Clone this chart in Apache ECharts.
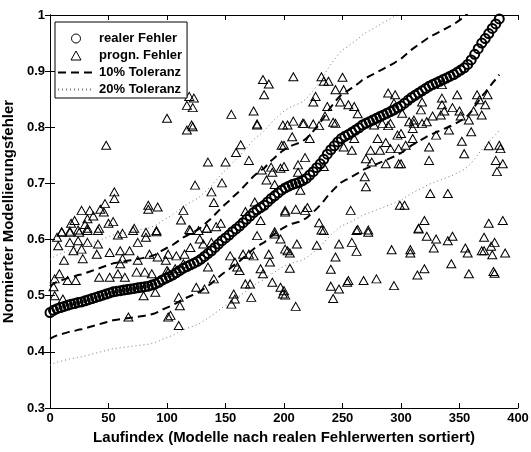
<!DOCTYPE html>
<html>
<head>
<meta charset="utf-8">
<script src="https://cdn.jsdelivr.net/npm/echarts@6/dist/echarts.min.js"></script>
<style>
  html, body { margin: 0; padding: 0; background: #fff; }
  #chart { width: 531px; height: 452px; }
</style>
</head>
<body>
<div id="chart"></div>
<script>
var realStep = 3;
var realVals = [
  0.470, 0.474, 0.477, 0.479, 0.481, 0.483, 0.485, 0.486, 0.488, 0.489,
  0.491, 0.493, 0.495, 0.497, 0.499, 0.501, 0.503, 0.505, 0.507, 0.508,
  0.509, 0.510, 0.511, 0.512, 0.513, 0.514, 0.515, 0.516, 0.517, 0.519,
  0.521, 0.524, 0.528, 0.531, 0.534, 0.537, 0.541, 0.545, 0.549, 0.552,
  0.555, 0.558, 0.561, 0.565, 0.570, 0.575, 0.580, 0.586, 0.592, 0.598,
  0.603, 0.608, 0.614, 0.619, 0.624, 0.630, 0.636, 0.642, 0.648, 0.653,
  0.657, 0.661, 0.667, 0.673, 0.678, 0.683, 0.688, 0.692, 0.695, 0.698,
  0.700, 0.702, 0.705, 0.709, 0.715, 0.721, 0.728, 0.735, 0.743, 0.752,
  0.760, 0.767, 0.774, 0.780, 0.784, 0.787, 0.791, 0.795, 0.799, 0.804,
  0.807, 0.810, 0.813, 0.816, 0.819, 0.822, 0.825, 0.828, 0.831, 0.835,
  0.838, 0.843, 0.848, 0.853, 0.857, 0.861, 0.865, 0.869, 0.873, 0.876,
  0.879, 0.882, 0.885, 0.888, 0.891, 0.894, 0.898, 0.902, 0.906, 0.912,
  0.920, 0.930, 0.940, 0.950, 0.958, 0.967, 0.976, 0.984, 0.993
];

// prognostizierter Fehler [Laufindex, Wert]
var prognPts = [
  [100,0.816],[119,0.855],[123,0.852],[117,0.839],[122,0.835],[121,0.804],[155,0.823],[174,0.829],[177,0.806],
  [182,0.885],[187,0.877],[183,0.858],
  [208,0.890],[232,0.890],[250,0.889],[234,0.882],[238,0.882],[244,0.867],[251,0.867],[227,0.855],[225,0.845],
  [237,0.837],[248,0.845],[255,0.840],[260,0.837],[263,0.824],[235,0.820],[289,0.861],[295,0.858],[294,0.843],
  [208,0.811],[216,0.807],[225,0.806],[242,0.809],[203,0.804],[284,0.807],[291,0.807],
  [335,0.876],[348,0.858],[335,0.852],[318,0.845],[335,0.840],[344,0.835],[365,0.858],[374,0.858],[367,0.849],
  [372,0.840],[317,0.831],[301,0.825],[337,0.829],[350,0.829],[362,0.829],[311,0.813],[322,0.810],[327,0.820],
  [334,0.822],[351,0.820],[358,0.813],[369,0.822],[307,0.810],
  [48,0.768],[55,0.685],[55,0.673],[47,0.664],[27,0.652],[34,0.652],[43,0.654],[46,0.649],[84,0.661],[84,0.654],
  [92,0.658],[21,0.634],[32,0.637],[37,0.642],[18,0.629],[30,0.627],[50,0.629],[54,0.632],[10,0.614],[17,0.615],
  [24,0.617],[32,0.620],[42,0.620],[72,0.620],[91,0.614],[62,0.611],
  [117,0.795],[122,0.801],[177,0.804],[199,0.804],[163,0.769],[159,0.755],[170,0.741],[198,0.768],[135,0.738],
  [150,0.738],[181,0.724],[189,0.729],[197,0.727],[190,0.720],[185,0.706],[192,0.698],[147,0.701],[124,0.697],
  [138,0.685],[140,0.666],[175,0.667],[167,0.650],[114,0.652],[112,0.635],[119,0.618],[134,0.620],[142,0.623],
  [146,0.629],[180,0.634],[192,0.614],[201,0.649],
  [217,0.807],[230,0.803],[244,0.807],[207,0.783],[222,0.780],[200,0.768],[277,0.804],[289,0.803],[297,0.786],
  [280,0.780],[287,0.773],[260,0.780],[251,0.765],[258,0.759],[274,0.759],[282,0.759],[291,0.762],[298,0.762],
  [270,0.744],[275,0.738],[287,0.735],[298,0.735],[218,0.746],[212,0.733],[212,0.720],[200,0.730],[234,0.730],
  [269,0.712],[270,0.694],[214,0.688],[201,0.652],[210,0.654],[218,0.652],[220,0.657],[257,0.652],[230,0.630],
  [232,0.617],[263,0.618],[272,0.617],[299,0.661],
  [311,0.807],[318,0.807],[310,0.798],[300,0.789],[310,0.780],[330,0.786],[341,0.795],[360,0.792],[304,0.768],
  [324,0.765],[352,0.775],[354,0.753],[324,0.741],[300,0.735],[375,0.767],[384,0.768],[385,0.762],[381,0.741],
  [387,0.735],[382,0.721],[325,0.682],[340,0.682],[303,0.661],[320,0.634],[315,0.620],[375,0.629],[387,0.634],
  [10,0.613],[17,0.613],[25,0.613],[32,0.616],[41,0.616],[58,0.608],[71,0.616],[82,0.613],[91,0.616],[7,0.589],
  [17,0.595],[24,0.598],[32,0.595],[41,0.592],[20,0.580],[27,0.583],[40,0.574],[51,0.577],[60,0.580],[68,0.580],
  [75,0.595],[82,0.604],[75,0.563],[85,0.574],[12,0.563],[28,0.566],[60,0.557],[62,0.566],[92,0.569],[99,0.563],
  [4,0.530],[8,0.539],[15,0.527],[22,0.527],[42,0.533],[51,0.533],[58,0.539],[64,0.533],[74,0.542],[81,0.542],
  [87,0.539],[101,0.542],[4,0.500],[11,0.494],[80,0.500],[90,0.506],[67,0.462],[101,0.462],[3,0.516],[6,0.604],
  [120,0.616],[127,0.616],[134,0.620],[128,0.601],[131,0.592],[138,0.595],[120,0.586],[115,0.574],[108,0.571],
  [101,0.574],[114,0.557],[107,0.548],[100,0.545],[135,0.551],[154,0.571],[158,0.560],[160,0.551],[162,0.545],
  [165,0.574],[170,0.574],[174,0.571],[177,0.607],[187,0.574],[188,0.560],[180,0.548],[182,0.539],[192,0.610],
  [197,0.601],[140,0.530],[125,0.515],[132,0.512],[167,0.521],[171,0.521],[190,0.524],[197,0.515],[110,0.497],
  [111,0.482],[157,0.503],[158,0.494],[155,0.485],[172,0.497],[103,0.465],[110,0.447],[199,0.503],[201,0.583],
  [234,0.616],[262,0.616],[272,0.613],[211,0.592],[228,0.590],[247,0.592],[258,0.595],[262,0.579],[292,0.582],
  [203,0.580],[205,0.576],[244,0.569],[205,0.549],[240,0.547],[240,0.517],[247,0.512],[254,0.524],[255,0.527],
  [268,0.527],[279,0.530],[294,0.518],[242,0.495],[200,0.509],[201,0.501],[210,0.481],
  [315,0.619],[322,0.606],[330,0.601],[340,0.598],[344,0.606],[371,0.604],[380,0.595],[308,0.582],[308,0.576],
  [328,0.585],[355,0.585],[357,0.576],[369,0.580],[371,0.580],[377,0.588],[378,0.573],[389,0.576],[343,0.557],
  [314,0.537],[320,0.548],[358,0.539],[379,0.543],[380,0.540]
];

var tol10 = 0.1;
var tol20 = 0.2;

var xTicks = { min: 0, max: 400, interval: 50 };
var yTicks = { min: 0.3, max: 1, interval: 0.1 };

function realSeriesData(factor) {
  return realVals.map(function (v, i) { return [i * realStep, v * factor]; });
}

var font = 'Liberation Sans, Arial, Helvetica, sans-serif';
var chart = echarts.init(document.getElementById('chart'));

function boxAxis(extra) {
  return Object.assign({
    type: 'value',
    axisLine: { show: true, lineStyle: { color: '#000', width: 1 } },
    axisTick: { show: true, inside: true, length: 5, lineStyle: { color: '#000' } },
    splitLine: { show: false }
  }, extra);
}

var nameStyle = { fontFamily: font, fontWeight: 'bold', fontSize: 15, color: '#000' };
var tickStyle = { fontFamily: font, fontWeight: 'bold', fontSize: 13, color: '#000' };
var hollow = 'rgba(255,255,255,0)';

chart.setOption({
  animation: false,
  backgroundColor: '#fff',
  grid: { left: 50, right: 13, top: 15, bottom: 44, containLabel: false, outerBoundsMode: 'none' },
  legend: {
    orient: 'vertical',
    left: 55,
    top: 22,
    padding: [10, 5, 2, 2],
    itemGap: 4,
    itemWidth: 36,
    itemHeight: 9,
    symbolKeepAspect: true,
    backgroundColor: '#fff',
    borderColor: '#000',
    borderWidth: 1,
    borderRadius: 0,
    textStyle: { fontFamily: font, fontWeight: 'bold', fontSize: 13, color: '#000' },
    data: [
      { name: 'realer Fehler', icon: 'circle', itemStyle: { color: hollow, borderColor: '#000', borderWidth: 1 } },
      { name: 'progn. Fehler', icon: 'path://M5,0L10,9L0,9Z', itemStyle: { color: hollow, borderColor: '#000', borderWidth: 1 } },
      '10% Toleranz',
      '20% Toleranz'
    ]
  },
  xAxis: [
    boxAxis({
      min: xTicks.min, max: xTicks.max, interval: xTicks.interval,
      name: 'Laufindex (Modelle nach realen Fehlerwerten sortiert)',
      nameLocation: 'middle',
      nameGap: 21,
      nameTextStyle: nameStyle,
      axisLabel: Object.assign({ margin: 4 }, tickStyle)
    }),
    boxAxis({
      position: 'top',
      min: xTicks.min, max: xTicks.max, interval: xTicks.interval,
      axisLabel: { show: false }
    })
  ],
  yAxis: [
    boxAxis({
      min: yTicks.min, max: yTicks.max, interval: yTicks.interval,
      name: 'Normierter Modellierungsfehler',
      nameLocation: 'middle',
      nameGap: 32,
      nameTextStyle: nameStyle,
      axisLabel: Object.assign({
        margin: 5,
        formatter: function (v) { return Math.abs(v - 1) < 1e-9 ? '1' : v.toFixed(1); }
      }, tickStyle)
    }),
    boxAxis({
      position: 'right',
      min: yTicks.min, max: yTicks.max, interval: yTicks.interval,
      axisLabel: { show: false }
    })
  ],
  series: [
    {
      name: 'progn. Fehler',
      type: 'scatter',
      symbol: 'triangle',
      symbolSize: [9, 8],
      itemStyle: { color: hollow, borderColor: '#000', borderWidth: 1, opacity: 1 },
      data: prognPts,
      z: 2
    },
    {
      name: 'realer Fehler',
      type: 'scatter',
      symbol: 'circle',
      symbolSize: 9,
      itemStyle: { color: hollow, borderColor: '#000', borderWidth: 2, opacity: 1 },
      data: realSeriesData(1),
      z: 3
    },
    {
      name: '10% Toleranz', type: 'line', symbol: 'none', showSymbol: false,
      itemStyle: { color: hollow, borderColor: hollow },
      lineStyle: { color: '#000', width: 2, type: [8, 5] },
      data: realSeriesData(1 + tol10), z: 4
    },
    {
      name: '10% Toleranz', type: 'line', symbol: 'none', showSymbol: false,
      itemStyle: { color: hollow, borderColor: hollow },
      lineStyle: { color: '#000', width: 2, type: [8, 5] },
      data: realSeriesData(1 - tol10), z: 4
    },
    {
      name: '20% Toleranz', type: 'line', symbol: 'none', showSymbol: false,
      itemStyle: { color: hollow, borderColor: hollow },
      lineStyle: { color: '#777', width: 1, type: [1, 3] },
      data: realSeriesData(1 + tol20), z: 4
    },
    {
      name: '20% Toleranz', type: 'line', symbol: 'none', showSymbol: false,
      itemStyle: { color: hollow, borderColor: hollow },
      lineStyle: { color: '#777', width: 1, type: [1, 3] },
      data: realSeriesData(1 - tol20), z: 4
    }
  ]
});
</script>
</body>
</html>
